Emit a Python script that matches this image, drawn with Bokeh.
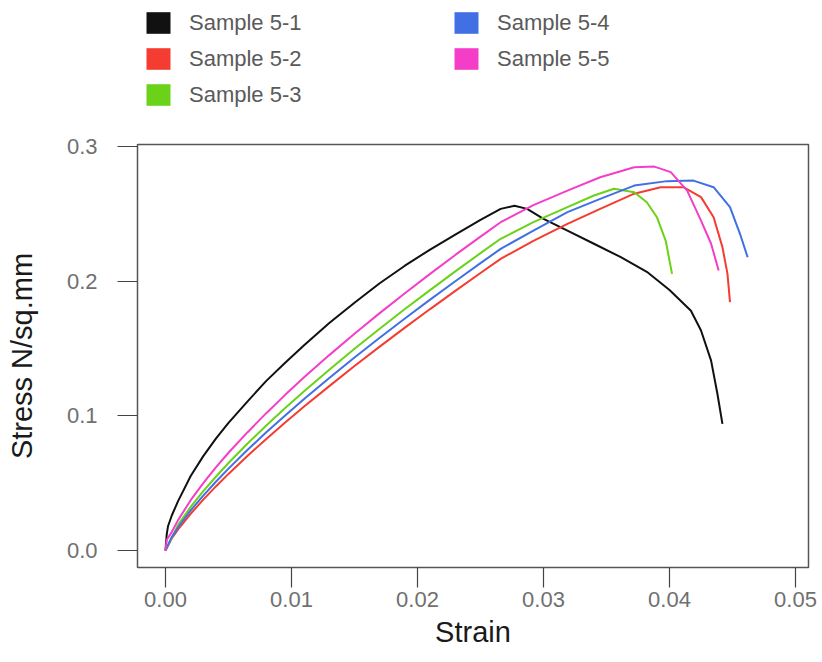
from bokeh.plotting import figure
from bokeh.layouts import column
from bokeh.models import Legend, LegendItem, FixedTicker, PrintfTickFormatter, Range1d
from bokeh.embed import file_html
from bokeh.resources import INLINE

# ---- data ----
series_names = ["Sample 5-1", "Sample 5-2", "Sample 5-3", "Sample 5-4", "Sample 5-5"]
series_colors = ["#111111", "#f43c30", "#6ad218", "#4070e4", "#f43ec8"]

strain_51 = [0, 0.0001, 0.0002, 0.0005, 0.001, 0.002, 0.003, 0.004, 0.005, 0.0065, 0.008,
             0.0095, 0.011, 0.013, 0.015, 0.017, 0.019, 0.021, 0.023, 0.025,
             0.0266, 0.0277, 0.0287, 0.030, 0.0319, 0.034, 0.0361, 0.0382, 0.0400,
             0.0417, 0.0425, 0.0433, 0.0438, 0.0442]
stress_51 = [0, 0.012, 0.018, 0.026, 0.0367, 0.0553, 0.0701, 0.0831, 0.0948, 0.1106, 0.126,
             0.1395, 0.1525, 0.169, 0.184, 0.1985, 0.2115, 0.2235, 0.2345, 0.2455,
             0.2537, 0.256, 0.2537, 0.2463, 0.2376, 0.2278, 0.218, 0.207, 0.1935,
             0.178, 0.1634, 0.141, 0.1164, 0.094]

strain_52 = [0, 0.0005, 0.001, 0.002, 0.003, 0.004, 0.005, 0.0065, 0.008, 0.0095, 0.011,
             0.013, 0.015, 0.017, 0.019, 0.021, 0.023, 0.025,
             0.0266, 0.0292, 0.0319, 0.0345, 0.0372, 0.0393, 0.0411, 0.0425, 0.0435,
             0.0442, 0.0446, 0.0448]
stress_52 = [0, 0.009, 0.0157, 0.0273, 0.0378, 0.0476, 0.0569, 0.0702, 0.0829, 0.095, 0.1069,
             0.1221, 0.137, 0.1514, 0.1655, 0.1793, 0.1928, 0.2061,
             0.2166, 0.230, 0.2426, 0.2537, 0.265, 0.2698, 0.2698, 0.2624, 0.2475,
             0.2253, 0.2054, 0.1844]

strain_53 = [0, 0.0004, 0.001, 0.002, 0.003, 0.004, 0.005, 0.0065, 0.008, 0.0095, 0.011,
             0.013, 0.015, 0.017, 0.019, 0.021, 0.023, 0.025,
             0.0266, 0.0292, 0.0319, 0.034, 0.0356, 0.0372, 0.0382, 0.039, 0.0397, 0.0402]
stress_53 = [0, 0.0074, 0.0191, 0.0324, 0.0441, 0.0548, 0.065, 0.0793, 0.0929, 0.1058, 0.1183,
             0.1343, 0.1498, 0.1647, 0.1793, 0.1934, 0.2073, 0.2208,
             0.2315, 0.2438, 0.255, 0.2636, 0.2686, 0.266, 0.2586, 0.2475, 0.230, 0.2054]

strain_54 = [0, 0.0005, 0.001, 0.002, 0.003, 0.004, 0.005, 0.0065, 0.008, 0.0095, 0.011,
             0.013, 0.015, 0.017, 0.019, 0.021, 0.023, 0.025,
             0.0266, 0.0292, 0.0319, 0.0345, 0.0372, 0.0398, 0.0419, 0.0435, 0.0448,
             0.0456, 0.0462]
stress_54 = [0, 0.0101, 0.0173, 0.0298, 0.0408, 0.0511, 0.0608, 0.0746, 0.0878, 0.1003, 0.1125,
             0.1281, 0.1433, 0.158, 0.1723, 0.1863, 0.2, 0.2134,
             0.224, 0.2376, 0.2513, 0.2611, 0.271, 0.2743, 0.2747, 0.2698, 0.255,
             0.235, 0.2178]

strain_55 = [0, 0.0001, 0.0005, 0.001, 0.002, 0.003, 0.004, 0.005, 0.0065, 0.008, 0.0095,
             0.011, 0.013, 0.015, 0.017, 0.019, 0.021, 0.023, 0.025,
             0.0266, 0.0292, 0.0319, 0.0345, 0.0372, 0.0388, 0.0401, 0.0414, 0.0425,
             0.0433, 0.0439]
stress_55 = [0, 0.008, 0.0137, 0.0226, 0.0374, 0.0501, 0.0617, 0.0726, 0.0877, 0.102, 0.1156,
             0.1286, 0.1451, 0.161, 0.1763, 0.1911, 0.2054, 0.2195, 0.2331,
             0.2438, 0.2565, 0.2673, 0.2772, 0.2846, 0.2851, 0.281, 0.2673, 0.245,
             0.2278, 0.208]

x_ticks = [0.0, 0.01, 0.02, 0.03, 0.04, 0.05]
y_ticks = [0.0, 0.1, 0.2, 0.3]

FONT = "Liberation Sans"

# ---- main chart ----
p = figure(width=818, height=536, output_backend="svg", toolbar_location=None,
           x_range=Range1d(-0.00222, 0.05103), y_range=Range1d(-0.0126, 0.3015),
           min_border_left=137, min_border_right=10, min_border_top=24, min_border_bottom=89)

p.background_fill_color = "white"
p.border_fill_color = "white"
p.outline_line_color = "#555555"
p.outline_line_width = 1.5
p.grid.visible = False

xs = [strain_51, strain_52, strain_53, strain_54, strain_55]
ys = [stress_51, stress_52, stress_53, stress_54, stress_55]
for sx, sy, c in zip(xs, ys, series_colors):
    p.line(sx, sy, line_color=c, line_width=2)

for ax in (p.xaxis[0], p.yaxis[0]):
    ax.axis_line_color = None
    ax.major_tick_out = 20
    ax.major_tick_in = 0
    ax.minor_tick_out = 0
    ax.minor_tick_in = 0
    ax.major_tick_line_color = "#444444"
    ax.major_tick_line_width = 1.2
    ax.major_label_text_font = FONT
    ax.major_label_text_font_size = "22px"
    ax.major_label_text_color = "#707070"
    ax.axis_label_text_font = FONT
    ax.axis_label_text_font_size = "29px"
    ax.axis_label_text_font_style = "normal"
    ax.axis_label_text_color = "#1a1a1a"

p.xaxis.ticker = FixedTicker(ticks=x_ticks)
p.yaxis.ticker = FixedTicker(ticks=y_ticks)
p.xaxis.formatter = PrintfTickFormatter(format="%.2f")
p.yaxis.formatter = PrintfTickFormatter(format="%.1f")
p.xaxis.axis_label = "Strain"
p.yaxis.axis_label = "Stress N/sq.mm"
p.xaxis.major_label_standoff = 4
p.xaxis.axis_label_standoff = 6
p.yaxis.major_label_standoff = 20
p.yaxis.axis_label_standoff = 26

# ---- legend strip above the chart ----
lp = figure(width=818, height=120, output_backend="svg", toolbar_location=None,
            x_axis_type=None, y_axis_type=None,
            min_border_left=0, min_border_right=0, min_border_top=0, min_border_bottom=0)
lp.outline_line_color = None
lp.grid.visible = False
lp.background_fill_color = "white"
lp.border_fill_color = "white"

# zero-area quads: they carry only the swatch colour for the legend
swatches = [lp.quad(left=[0], right=[0], top=[0], bottom=[0], fill_color=c, line_color=None)
            for c in series_colors]

def make_legend(idx, loc):
    items = [LegendItem(label=series_names[i], renderers=[swatches[i]]) for i in idx]
    lg = Legend(items=items, location=loc, orientation="vertical",
                glyph_width=30, glyph_height=27, label_height=27, label_standoff=16,
                spacing=9, padding=0, margin=0,
                border_line_color=None, background_fill_alpha=0,
                label_text_font=FONT, label_text_font_size="22px",
                label_text_color="#5a5a5a")
    lp.add_layout(lg, "center")

# (left, bottom) of each legend block, in pixels from the strip frame's bottom-left corner
make_legend([0, 1, 2], (6, 12))
make_legend([3, 4], (314, 48))

layout = column(lp, p, spacing=0)
open("out.html", "w").write(file_html(layout, INLINE))
